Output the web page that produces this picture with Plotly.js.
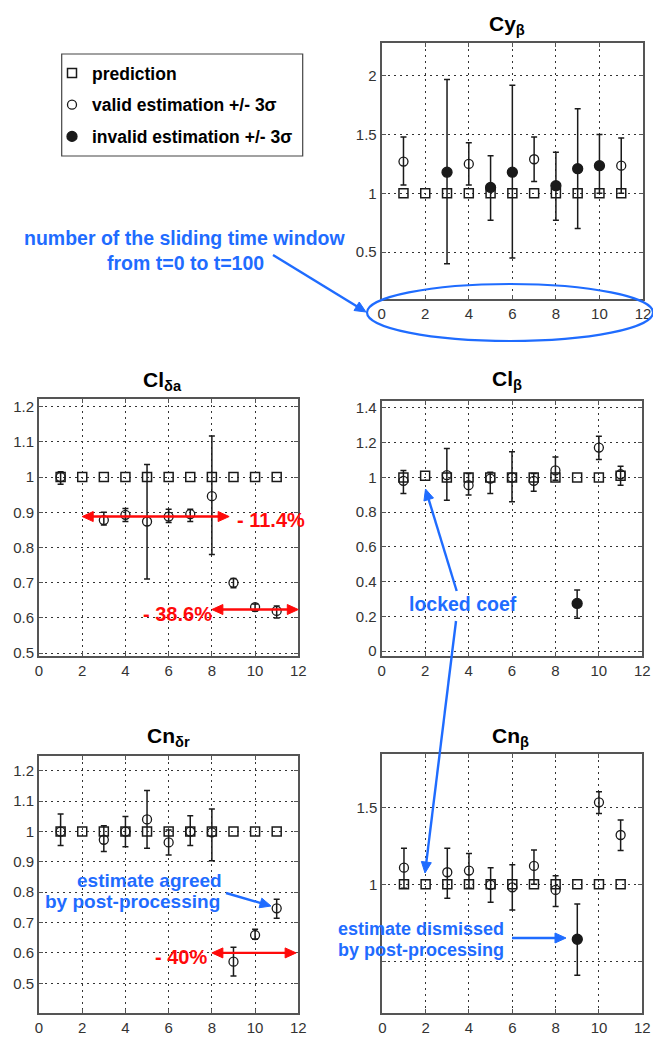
<!DOCTYPE html>
<html>
<head>
<meta charset="utf-8">
<script src="https://cdn.plot.ly/plotly-3.0.1.min.js"></script>
<style>html,body{margin:0;padding:0;background:#fff;}#chart{width:653px;height:1039px;}</style>
</head>
<body>
<div id="chart"></div>
<script>
// ---- data ----
const windows = [1, 2, 3, 4, 5, 6, 7, 8, 9, 10, 11];
const xTicks = [0, 2, 4, 6, 8, 10, 12];

// Cy_beta
const cyPred  = [1, 1, 1, 1, 1, 1, 1, 1, 1, 1, 1];
const cyEst   = [1.27, null, 1.18, 1.25, 1.05, 1.18, 1.29, 1.065, 1.21, 1.235, 1.235];
const cyLow   = [1.07, null, 0.40, 1.07, 0.77, 0.45, 1.10, 0.77, 0.70, 1.00, 1.00];
const cyHigh  = [1.48, null, 1.97, 1.43, 1.32, 1.92, 1.48, 1.35, 1.72, 1.50, 1.47];
const cyValid = [1, null, 0, 1, 0, 0, 1, 0, 0, 0, 1];
const cyTicks = [0.5, 1, 1.5, 2];

// Cl_delta_a
const claPred  = [1, 1, 1, 1, 1, 1, 1, 1, 1, 1, 1];
const claEst   = [1.0, null, 0.878, 0.893, 0.874, 0.888, 0.895, 0.946, 0.70, 0.631, 0.62];
const claLow   = [0.98, null, 0.864, 0.874, 0.711, 0.871, 0.874, 0.78, 0.686, 0.62, 0.60];
const claHigh  = [1.015, null, 0.90, 0.911, 1.036, 0.909, 0.909, 1.117, 0.712, 0.64, 0.634];
const claValid = [1, null, 1, 1, 1, 1, 1, 1, 1, 1, 1];
const claTicks = [0.5, 0.6, 0.7, 0.8, 0.9, 1, 1.1, 1.2];

// Cl_beta
const clbPred  = [1, 1.01, 1, 1, 1, 1, 1, 1, 1, 1, 1.01];
const clbEst   = [0.98, null, 1.013, 0.955, 0.993, 1.0, 0.98, 1.04, 0.274, 1.172, 1.018];
const clbLow   = [0.907, null, 0.869, 0.898, 0.907, 0.859, 0.92, 0.984, 0.188, 1.103, 0.955];
const clbHigh  = [1.04, null, 1.166, 1.022, 1.03, 1.147, 1.022, 1.118, 0.351, 1.237, 1.064];
const clbValid = [1, null, 1, 1, 1, 1, 1, 1, 0, 1, 1];
const clbTicks = [0, 0.2, 0.4, 0.6, 0.8, 1, 1.2, 1.4];

// Cn_delta_r
const cnrPred  = [1, 1, 1, 1, 1, 1, 1, 1, 1, 1, 1];
const cnrEst   = [1.0, null, 0.973, 1.0, 1.04, 0.964, 1.0, 0.997, 0.571, 0.659, 0.747];
const cnrLow   = [0.954, null, 0.934, 0.95, 0.945, 0.923, 0.954, 0.904, 0.524, 0.645, 0.714];
const cnrHigh  = [1.058, null, 1.019, 1.05, 1.135, 1.005, 1.052, 1.074, 0.619, 0.678, 0.777];
const cnrValid = [1, null, 1, 1, 1, 1, 1, 1, 1, 1, 1];
const cnrTicks = [0.5, 0.6, 0.7, 0.8, 0.9, 1, 1.1, 1.2];

// Cn_beta
const cnbPred  = [1, 1, 1, 1, 1, 1, 1, 1, 1, 1, 1];
const cnbEst   = [1.108, null, 1.078, 1.089, 0.996, 0.98, 1.119, 0.963, 0.643, 1.532, 1.32];
const cnbLow   = [0.974, null, 0.909, 0.974, 0.883, 0.833, 1.0, 0.855, 0.409, 1.46, 1.219];
const cnbHigh  = [1.234, null, 1.234, 1.2, 1.108, 1.126, 1.223, 1.056, 0.872, 1.6, 1.418];
const cnbValid = [1, null, 1, 1, 1, 1, 1, 1, 0, 1, 1];
const cnbTicks = [0.5, 1, 1.5];
const cnbTickText = ['', '1', '1.5'];

// ---- helpers ----
const W = 653, H = 1039;
const px = v => v / W;
const py = v => 1 - v / H;
const BLUE = '#1f6cff', RED = '#ff0a0a', INK = '#1a1a1a';
const FONT = 'Liberation Sans, Arial, Helvetica, sans-serif';

function panelTraces(k, pred, est, low, high, valid, showLegend) {
  const xa = k === 1 ? 'x' : 'x' + k, ya = k === 1 ? 'y' : 'y' + k;
  const traces = [];
  traces.push({
    type: 'scatter', mode: 'markers', x: windows, y: pred, xaxis: xa, yaxis: ya,
    name: '<b>prediction</b>', legendgroup: 'p', showlegend: showLegend,
    marker: {symbol: 'square-open', size: 9, color: INK, line: {width: 1.5, color: INK}}
  });
  [[1, 'v', '<b>valid estimation +/- 3σ</b>', 'circle-open', 9],
   [0, 'i', '<b>invalid estimation +/- 3σ</b>', 'circle', 10]].forEach(([flag, grp, nm, sym, sz]) => {
    const xs = [], ys = [], up = [], dn = [];
    windows.forEach((w, i) => {
      if (valid[i] === flag && est[i] !== null) {
        xs.push(w); ys.push(est[i]); up.push(high[i] - est[i]); dn.push(est[i] - low[i]);
      }
    });
    traces.push({
      type: 'scatter', mode: 'markers', x: xs, y: ys, xaxis: xa, yaxis: ya,
      name: nm, legendgroup: grp, showlegend: showLegend,
      marker: {symbol: sym, size: sz, color: INK, line: {width: 1.3, color: INK}},
      error_y: {type: 'data', symmetric: false, array: up, arrayminus: dn,
                color: INK, thickness: 1.5, width: 3}
    });
  });
  return traces;
}

const data = [].concat(
  panelTraces(1, cyPred, cyEst, cyLow, cyHigh, cyValid, true),
  panelTraces(2, claPred, claEst, claLow, claHigh, claValid, false),
  panelTraces(3, clbPred, clbEst, clbLow, clbHigh, clbValid, false),
  panelTraces(4, cnrPred, cnrEst, cnrLow, cnrHigh, cnrValid, false),
  panelTraces(5, cnbPred, cnbEst, cnbLow, cnbHigh, cnbValid, false)
);

// panel pixel boxes [left, right, top, bottom] and ranges
const boxes = {
  1: {l: 381.7, r: 643,   t: 43,    b: 299,    yr: [0.1, 2.28]},
  2: {l: 39,    r: 298.3, t: 399.3, b: 656,    yr: [0.492, 1.221]},
  3: {l: 381.7, r: 642.3, t: 401,   b: 655.7,  yr: [-0.027, 1.44]},
  4: {l: 39,    r: 298.3, t: 756,   b: 1013.3, yr: [0.401, 1.249]},
  5: {l: 382.3, r: 642.3, t: 754.3, b: 1013.3, yr: [0.162, 1.844]}
};
// data -> pixel through the panel's axis scale
function toPx(k, xv, yv) {
  const b = boxes[k];
  return [b.l + (xv / 12) * (b.r - b.l),
          b.b - (yv - b.yr[0]) / (b.yr[1] - b.yr[0]) * (b.b - b.t)];
}

function axisBase(extra) {
  return Object.assign({
    showgrid: true, gridcolor: '#333', griddash: '2px,4px', gridwidth: 1,
    showline: true, linecolor: '#555', linewidth: 2, mirror: 'ticks',
    ticks: 'inside', ticklen: 4, tickcolor: '#555', zeroline: false,
    tickfont: {family: FONT, size: 15, color: '#333'}, fixedrange: true
  }, extra);
}
function xAxis(k) {
  const b = boxes[k];
  return axisBase({domain: [px(b.l), px(b.r)], range: [0, 12], tickvals: xTicks,
                   anchor: k === 1 ? 'y' : 'y' + k});
}
function yAxis(k, ticks, ticktext) {
  const b = boxes[k];
  const o = {domain: [py(b.b), py(b.t)], range: b.yr, tickvals: ticks,
             anchor: k === 1 ? 'x' : 'x' + k};
  if (ticktext) o.ticktext = ticktext;
  return axisBase(o);
}

function title(txt, x, y) {
  return {text: '<b>' + txt + '</b>', x: px(x), y: py(y), xref: 'paper', yref: 'paper',
          showarrow: false, xanchor: 'center', yanchor: 'middle',
          font: {family: FONT, size: 21, color: '#000'}};
}
function label(txt, x, y, color, size, xanchor) {
  return {text: '<b>' + txt + '</b>', x: px(x), y: py(y), xref: 'paper', yref: 'paper',
          showarrow: false, xanchor: xanchor || 'center', yanchor: 'middle',
          font: {family: FONT, size: size, color: color}};
}

// arrows drawn as shapes: a line plus filled triangular head(s), pixel geometry
function head(xTip, yTip, ux, uy, color) {
  const L = 11, Wd = 5;
  const bx = xTip - ux * L, by = yTip - uy * L;
  const p1 = [bx - uy * Wd, by + ux * Wd], p2 = [bx + uy * Wd, by - ux * Wd];
  return {type: 'path', xref: 'paper', yref: 'paper',
          path: 'M ' + px(xTip) + ',' + py(yTip) + ' L ' + px(p1[0]) + ',' + py(p1[1]) +
                ' L ' + px(p2[0]) + ',' + py(p2[1]) + ' Z',
          fillcolor: color, line: {color: color, width: 1}};
}
function arrowShapes(x0, y0, x1, y1, color, both) {
  const d = Math.hypot(x1 - x0, y1 - y0), ux = (x1 - x0) / d, uy = (y1 - y0) / d;
  const sx0 = both ? x0 + ux * 8 : x0, sy0 = both ? y0 + uy * 8 : y0;
  const out = [{type: 'line', xref: 'paper', yref: 'paper',
                x0: px(sx0), y0: py(sy0), x1: px(x1 - ux * 8), y1: py(y1 - uy * 8),
                line: {color: color, width: 2.4}},
               head(x1, y1, ux, uy, color)];
  if (both) out.push(head(x0, y0, -ux, -uy, color));
  return out;
}
function dataArrow(k, xa, xb, yv, color) {
  const a = toPx(k, xa, yv), b = toPx(k, xb, yv);
  return arrowShapes(a[0], a[1], b[0], b[1], color, true);
}

const shapes = [
  {type: 'rect', xref: 'paper', yref: 'paper', x0: px(61.7), x1: px(302.7), y0: py(54), y1: py(156),
   line: {color: '#444', width: 1.2}},
  {type: 'circle', xref: 'paper', yref: 'paper', x0: px(367), x1: px(653), y0: py(284), y1: py(341),
   line: {color: BLUE, width: 2.2}}
].concat(
  arrowShapes(273, 255, 366, 312, BLUE, false),
  dataArrow(2, 2, 8.8, 0.888, RED),
  dataArrow(2, 8.0, 12, 0.624, RED),
  dataArrow(4, 8.0, 11.9, 0.6, RED),
  arrowShapes(456.7, 591, 425.5, 489, BLUE, false),
  arrowShapes(456, 621, 425, 873, BLUE, false),
  arrowShapes(226, 893, 271, 906, BLUE, false),
  arrowShapes(512, 938, 566, 938, BLUE, false)
);

const layout = {
  width: W, height: H, margin: {l: 0, r: 0, t: 0, b: 0},
  paper_bgcolor: '#fff', plot_bgcolor: '#fff',
  font: {family: FONT},
  xaxis:  xAxis(1), yaxis:  yAxis(1, cyTicks),
  xaxis2: xAxis(2), yaxis2: yAxis(2, claTicks),
  xaxis3: xAxis(3), yaxis3: yAxis(3, clbTicks),
  xaxis4: xAxis(4), yaxis4: yAxis(4, cnrTicks),
  xaxis5: xAxis(5), yaxis5: yAxis(5, cnbTicks, cnbTickText),
  showlegend: true,
  legend: {x: px(52), y: py(55), xanchor: 'left', yanchor: 'top',
           bgcolor: 'rgba(0,0,0,0)', borderwidth: 0, traceorder: 'grouped',
           tracegroupgap: 6, font: {family: FONT, size: 17.5, color: '#000'}},
  shapes: shapes,
  annotations: [
    title('Cy<sub>β</sub>', 507, 25),
    title('Cl<sub>δa</sub>', 162, 381),
    title('Cl<sub>β</sub>', 507, 380),
    title('Cn<sub>δr</sub>', 168, 737),
    title('Cn<sub>β</sub>', 510, 737),
    label('number of the sliding time window', 184, 238, BLUE, 19.5),
    label('from t=0 to t=100', 185, 263, BLUE, 19.5),
    label('- 11.4%', 235, 520, RED, 20, 'left'),
    label('- 38.6%', 214, 614, RED, 20, 'right'),
    label('- 40%', 209, 957, RED, 20, 'right'),
    label('locked coef', 463, 604, BLUE, 19.5),
    label('estimate agreed', 149, 880, BLUE, 19),
    label('by post-processing', 132, 901, BLUE, 19),
    label('estimate dismissed', 421, 929, BLUE, 18),
    label('by post-processing', 421, 950, BLUE, 18)
  ]
};

Plotly.newPlot('chart', data, layout, {staticPlot: true, displayModeBar: false});
</script>
</body>
</html>
